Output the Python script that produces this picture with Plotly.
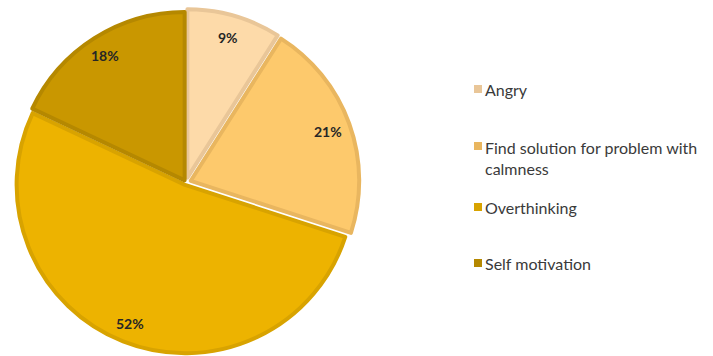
import math
import plotly.graph_objects as go

# Reactions data
categories = ["Angry", "Find solution for problem with calmness", "Overthinking", "Self motivation"]
legend_labels = ["Angry", "Find solution for problem with<br>calmness", "Overthinking", "Self motivation"]
values = [9, 21, 52, 18]

fill_colors = ["#FDDAA9", "#FDC96C", "#EDB300", "#C99700"]
edge_colors = ["#E9C698", "#E9B65F", "#D8A300", "#B58800"]

W, H = 713, 356
# pie placement (pixels)
cx, cy, R = 186, 183, 174

fig = go.Figure()
fig.add_trace(go.Pie(
    labels=categories,
    values=values,
    sort=False,
    direction="clockwise",
    rotation=0,
    pull=[0.03, 0.03, 0.015, 0.015],
    marker=dict(colors=fill_colors, line=dict(color=edge_colors, width=4)),
    textinfo="none",
    hoverinfo="label+percent",
    showlegend=False,
    domain=dict(x=[(cx - R) / W, (cx + R) / W], y=[max(0, 1 - (cy + R) / H), 1 - (cy - R) / H]),
))

# percentage labels near the outer edge of each slice
total = sum(values)
cum = 0
for v in values:
    mid = (cum + v / 2) / total * 2 * math.pi
    cum += v
    r = 0.87 * R
    px = cx + r * math.sin(mid)
    py = cy - r * math.cos(mid)
    fig.add_annotation(
        x=px / W, y=1 - py / H, xref="paper", yref="paper",
        xanchor="center", yanchor="middle",
        text=f"<b>{round(v / total * 100)}%</b>", showarrow=False,
        font=dict(family="Lato", size=14, color="#262626"),
    )

# legend drawn beside the pie
square_y = [89, 146, 207, 263]
text_y = [89, 158, 207, 263]
for lab, col, sy, ty in zip(legend_labels, edge_colors, square_y, text_y):
    fig.add_shape(type="rect", xref="paper", yref="paper",
                  x0=474 / W, x1=482 / W, y0=1 - (sy + 4) / H, y1=1 - (sy - 4) / H,
                  fillcolor=col, line=dict(width=0))
    fig.add_annotation(x=483 / W, y=1 - ty / H, xref="paper", yref="paper",
                       text=lab, showarrow=False, xanchor="left", yanchor="middle", align="left",
                       font=dict(family="Lato", size=16, color="#3a3a3a"))

fig.update_layout(
    width=W, height=H,
    margin=dict(l=0, r=0, t=0, b=0),
    paper_bgcolor="white", plot_bgcolor="white",
)
fig.write_html("out.html")
